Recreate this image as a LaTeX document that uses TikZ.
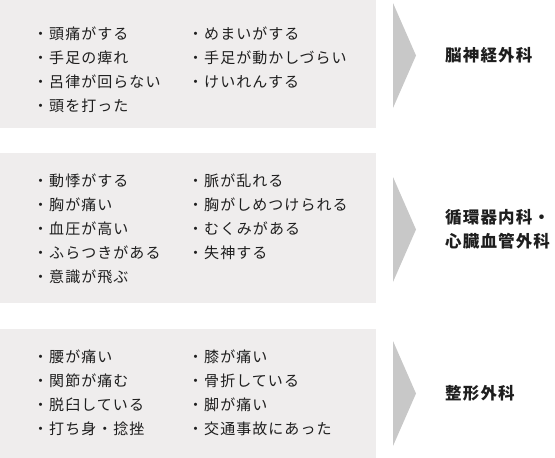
\documentclass[tikz,border=0pt]{standalone}
\usepackage{fontspec}
\setmainfont{Noto Sans CJK JP}
\newfontfamily\bodyfont[LetterSpace=7]{Noto Sans CJK JP}
\newfontfamily\headfont[LetterSpace=7]{Noto Sans CJK JP}
\usepackage{tikz}
\usetikzlibrary{positioning}
\definecolor{boxgray}{HTML}{EFEDED}
\definecolor{chevgray}{HTML}{C8C8C8}
\definecolor{inkgray}{HTML}{1E1E1E}
\tikzset{
  panel/.style={fill=boxgray, draw=none},
  chevron/.style={fill=chevgray, draw=none},
  item/.style={anchor=west, inner sep=0pt,
               font=\fontsize{15}{16}\bodyfont, text=inkgray},
  dept/.style={anchor=west, inner sep=0pt, align=left,
               font=\fontsize{16.5}{24}\headfont\bfseries, text=inkgray},
}

\begin{document}
\begin{tikzpicture}[x=1pt, y=-1pt]
    \useasboundingbox (0,0) rectangle (555,458);
    %% panels
    \fill[panel] (0,0) rectangle (376,128);
    \fill[panel] (0,153) rectangle (376,303);
    \fill[panel] (0,329) rectangle (376,458);
    %% chevrons
    \foreach \n/\y in {c1/3,c2/177,c3/341}{
      \coordinate (\n) at (393,\y);
      \fill[chevron] (\n) -- ++(23,52.5) -- ++(-23,52.5) -- cycle;
    }
    %% brain: symptoms
    \foreach \t [count=\i] in {頭痛がする,手足の痺れ,呂律が回らない,頭を打った}{
      \node[item] (a\i) at (33,{33.5+(\i-1)*24}) {・\t};
    }
    \foreach \t [count=\i] in {めまいがする,手足が動かしづらい,けいれんする}{
      \node[item] (b\i) at (188,{33.5+(\i-1)*24}) {・\t};
    }
    %% heart: symptoms
    \foreach \t [count=\i] in {動悸がする,胸が痛い,血圧が高い,ふらつきがある,意識が飛ぶ}{
      \node[item] (c\i) at (33,{181+(\i-1)*24}) {・\t};
    }
    \foreach \t [count=\i] in {脈が乱れる,胸がしめつけられる,むくみがある,失神する}{
      \node[item] (d\i) at (188,{181+(\i-1)*24}) {・\t};
    }
    %% bones: symptoms
    \foreach \t [count=\i] in {腰が痛い,関節が痛む,脱臼している,打ち身・捻挫}{
      \node[item] (e\i) at (33,{357+(\i-1)*24}) {・\t};
    }
    \foreach \t [count=\i] in {膝が痛い,骨折している,脚が痛い,交通事故にあった}{
      \node[item] (f\i) at (188,{357+(\i-1)*24}) {・\t};
    }
    %% departments
    \node[dept] (brain) at (445,55.5) {脳神経外科};
    \node[dept] (heart) at (445,229.5) {循環器内科・\\心臓血管外科};
    \node[dept] (bones) at (445,393.5) {整形外科};
\end{tikzpicture}
\end{document}
